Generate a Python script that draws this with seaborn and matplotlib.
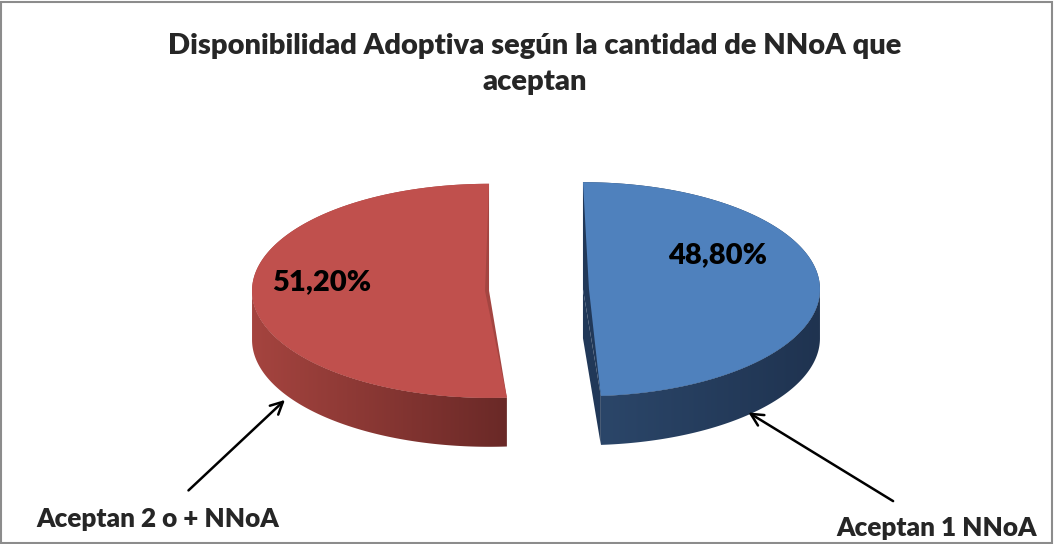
import numpy as np
import matplotlib
matplotlib.use("Agg")
import matplotlib.pyplot as plt
from matplotlib.patches import Polygon, Rectangle
import seaborn as sns

# data
categories = ["Aceptan 1 NNoA", "Aceptan 2 o + NNoA"]
shares = [48.8, 51.2]
pct_labels = ["48,80%", "51,20%"]
title = "Disponibilidad Adoptiva según la cantidad de NNoA que\naceptan"

# colours (top face, wall light, wall dark, cut face)
top_cols = ["#4F81BD", "#C0504D"]
wall_light = ["#2B4669", "#A5443F"]
wall_dark = ["#1F3350", "#6A2927"]
cut_cols = ["#213858", "#A44541"]

sns.set_theme(style="white")
plt.rcParams['font.family'] = ['Lato', 'DejaVu Sans']

# pseudo-3d geometry, in pixel space of the figure
cx, cy = 536, 290
rx, ry = 237, 107
depth = 49
explode = 47
apex_in = [6, 4]

fig = plt.figure(figsize=(10.54, 5.44), dpi=100)
ax = fig.add_axes([0, 0, 1, 1])
ax.set_xlim(0, 1054)
ax.set_ylim(544, 0)
ax.axis('off')


def rim(theta, ox, oy, dz=0):
    return np.column_stack([ox + rx * np.cos(theta), oy - ry * np.sin(theta) + dz])


def ramp(c1, c2, n=256):
    a = np.array(matplotlib.colors.to_rgb(c1))
    b = np.array(matplotlib.colors.to_rgb(c2))
    t = np.linspace(0, 1, n)[:, None]
    return (a + (b - a) * t)[None, :, :]


fracs = np.array(shares) / sum(shares)
start = np.pi / 2
for i, f in enumerate(fracs):
    end = start - f * 2 * np.pi
    mid = (start + end) / 2
    ox = cx + explode * np.cos(mid)
    oy = cy - explode * ry / rx * np.sin(mid)
    th = np.linspace(start, end, 300)
    top = rim(th, ox, oy)
    center = np.array([ox, oy])

    # cut faces that face the viewer
    for a, nrm in ((start, start + np.pi / 2), (end, end - np.pi / 2)):
        if np.sin(nrm) < -1e-6:
            p = rim(np.array([a]), ox, oy)[0]
            quad = [center, p, p + [0, depth], center + [0, depth]]
            ax.add_patch(Polygon(quad, closed=True, fc=cut_cols[i], ec='none'))

    # side wall, front half only, shaded left to right
    vis = th[np.sin(th) < 0]
    if len(vis) > 1:
        up = rim(vis, ox, oy)
        dn = rim(vis[::-1], ox, oy, depth)
        wall = Polygon(np.vstack([up, dn]), closed=True, fc='none', ec='none')
        ax.add_patch(wall)
        x0, x1 = up[:, 0].min(), up[:, 0].max()
        y0, y1 = up[:, 1].min(), dn[:, 1].max()
        img = ax.imshow(ramp(wall_light[i], wall_dark[i]), extent=(x0, x1, y1, y0),
                        aspect='auto', interpolation='bilinear')
        img.set_clip_path(wall)

    # thin slivers of the cut edges, then the top face with apex nudged inward
    ax.add_patch(Polygon(np.vstack([center, top]), closed=True, fc=cut_cols[i], ec='none'))
    apex = center + apex_in[i] * np.array([np.cos(mid), -np.sin(mid)])
    ax.add_patch(Polygon(np.vstack([apex, top]), closed=True, fc=top_cols[i], ec='none'))
    start = end

ax.set_xlim(0, 1054)
ax.set_ylim(544, 0)

# percent labels
ax.text(718, 255, pct_labels[0], ha='center', va='center', fontsize=21, fontweight='heavy', color='black')
ax.text(322, 282, pct_labels[1], ha='center', va='center', fontsize=21, fontweight='heavy', color='black')

# category labels with arrows
ax.annotate(categories[1], xy=(287, 398), xytext=(158, 519), ha='center', va='center',
            fontsize=18.8, fontweight='heavy',
            arrowprops=dict(arrowstyle='->', color='black', lw=1.8, mutation_scale=22, shrinkA=14))
ax.annotate(categories[0], xy=(746, 411), xytext=(937, 528), ha='center', va='center',
            fontsize=18.8, fontweight='heavy',
            arrowprops=dict(arrowstyle='->', color='black', lw=1.8, mutation_scale=22, shrinkA=16))

ax.text(535, 64, title, ha='center', va='center', fontsize=21, fontweight='heavy',
        linespacing=1.45)

fig.add_artist(Rectangle((0.001, 0.001), 0.997, 0.996, transform=fig.transFigure,
                         fill=False, ec='#8C8C8C', lw=1.5))

fig.savefig("out.png", dpi=100)
